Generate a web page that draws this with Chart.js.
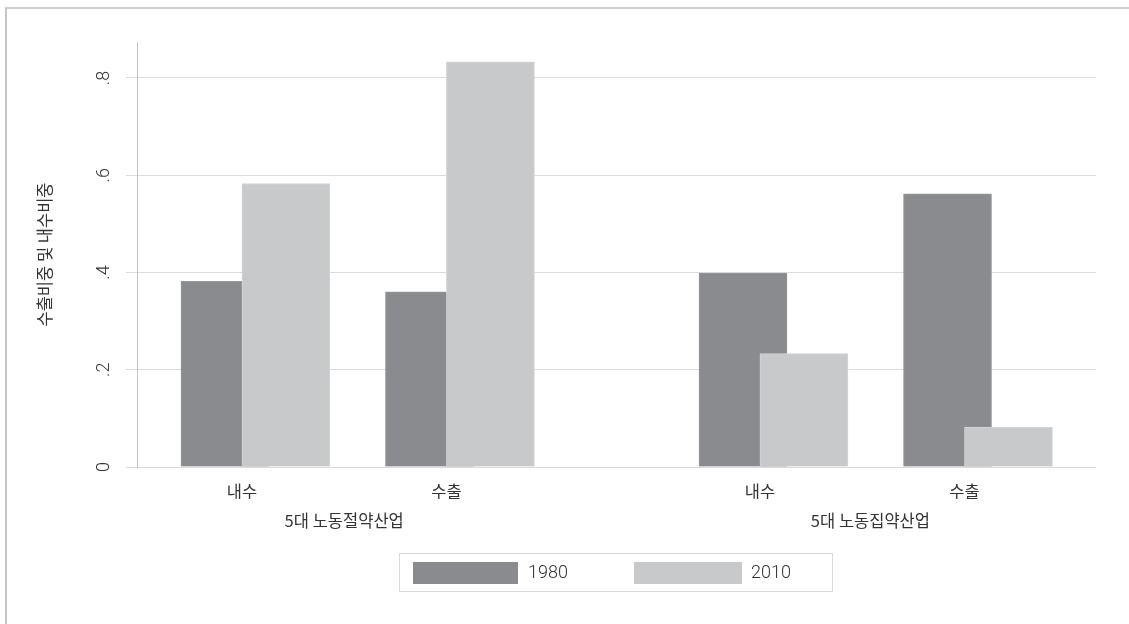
<!DOCTYPE html>
<html lang="ko">
<head>
<meta charset="UTF-8">
<title>수출비중 및 내수비중</title>
<script src="https://cdn.jsdelivr.net/npm/chart.js"></script>
<style>
  html, body { margin: 0; padding: 0; background: #fff; }
  #wrap { position: relative; width: 1129px; height: 624px; overflow: hidden; }
  #frame { position: absolute; left: 5px; top: 7px; width: 1140px; height: 640px;
           border-top: 2px solid #d0d0d0; border-left: 2px solid #c4c4c4; }
  #chart { position: absolute; left: 0; top: 0; }
  #legend { position: absolute; left: 399px; top: 553px; width: 432px; height: 37px;
            border: 1px solid #d9d9d9; font-family: Roboto, "Noto Sans CJK KR", sans-serif;
            font-size: 18px; font-weight: 300; color: #333; }
  #legend .sw { position: absolute; top: 8px; height: 22px; }
  #legend .lb { position: absolute; top: 6px; line-height: 24px; }
</style>
</head>
<body>
<div id="wrap">
  <div id="frame"></div>
  <canvas id="chart" width="1129" height="624"></canvas>
  <div id="legend"></div>
</div>

<script>
  // data
  const GROUPS = ['5대 노동절약산업', '5대 노동집약산업'];
  const SUBS = ['내수', '수출'];
  const SERIES = ['1980', '2010'];
  const V1980 = [0.382, 0.360, 0.399, 0.562];
  const V2010 = [0.583, 0.833, 0.233, 0.082];
  const Y_TICKS = [0, 0.2, 0.4, 0.6, 0.8];
  const Y_TICK_LABELS = ['0', '.2', '.4', '.6', '.8'];

  const COLORS = ['#8a8b8f', '#c8c9cb'];
  const FONT = '"Noto Sans CJK KR", "Noto Sans", sans-serif';
  const NUM_FONT = 'Roboto, "Noto Sans", sans-serif';
  const TEXT = '#333333';

  // layout of the categories along x (1 unit = distance 내수 -> 수출)
  const GROUP_STEP = 2.533;
  const BAR_SHIFT = [-0.083, 0.215];
  const X_MIN = -0.513, X_MAX = 4.176;
  const Y_MAX = 0.874;

  const catPos = [];
  GROUPS.forEach((g, gi) => SUBS.forEach((s, si) => catPos.push(gi * GROUP_STEP + si)));
  const groupPos = GROUPS.map((g, gi) => gi * GROUP_STEP + 0.5 + gi * 0.04);

  const values = [V1980, V2010];
  const datasets = SERIES.map((name, k) => ({
    label: name,
    data: values[k].map((v, i) => ({ x: catPos[i] + BAR_SHIFT[k], y: v })),
    backgroundColor: COLORS[k],
    borderColor: k === 0 ? '#96979b' : '#d3d4d6',
    borderWidth: 1,
    barThickness: 88,
    grouped: false,
    order: 2 - k   // 2010 drawn over 1980
  }));

  new Chart(document.getElementById('chart').getContext('2d'), {
    type: 'bar',
    data: { datasets: datasets },
    options: {
      responsive: false,
      animation: false,
      layout: { padding: { left: 0, top: 42, right: 33, bottom: 95 } },
      plugins: { legend: { display: false }, tooltip: { enabled: false } },
      scales: {
        x: {
          type: 'linear', min: X_MIN, max: X_MAX, offset: false, weight: 0,
          grid: { display: false, drawTicks: false },
          border: { display: false },
          afterBuildTicks: s => { s.ticks = catPos.map(v => ({ value: v })); },
          ticks: {
            callback: (v, i) => SUBS[i % SUBS.length],
            autoSkip: false, maxRotation: 0, padding: 15,
            color: TEXT, font: { family: FONT, size: 16.5 }
          },
          afterFit: s => { s.height = 32; }
        },
        x2: {
          type: 'linear', position: 'bottom', min: X_MIN, max: X_MAX, offset: false, weight: 1,
          grid: { display: false, drawTicks: false },
          border: { display: false },
          afterBuildTicks: s => { s.ticks = groupPos.map(v => ({ value: v })); },
          ticks: {
            callback: (v, i) => GROUPS[i],
            autoSkip: false, maxRotation: 0, padding: 12,
            color: TEXT, font: { family: FONT, size: 16.5 }
          },
          afterFit: s => { s.height = 30; }
        },
        y: {
          min: 0, max: Y_MAX,
          afterBuildTicks: s => { s.ticks = Y_TICKS.map(v => ({ value: v })); },
          ticks: {
            callback: (v, i) => Y_TICK_LABELS[i],
            minRotation: 90, maxRotation: 90, crossAlign: 'center', padding: 14,
            color: TEXT, font: { family: NUM_FONT, size: 18, weight: 300 }
          },
          grid: { color: '#dcdcdc', tickLength: 11, lineWidth: 1 },
          border: { color: '#c2c2c2' },
          title: {
            display: true, text: '수출비중 및 내수비중',
            padding: { top: 35 },
            color: TEXT, font: { family: FONT, size: 16.5 }
          },
          afterFit: s => { s.width = 137; }
        }
      }
    }
  });

  // legend box under the plot
  const legend = document.getElementById('legend');
  const swX = [13, 234], swW = [105, 108], lbX = [128, 351];
  SERIES.forEach((name, k) => {
    const sw = document.createElement('div');
    sw.className = 'sw';
    sw.style.left = swX[k] + 'px';
    sw.style.width = swW[k] + 'px';
    sw.style.background = COLORS[k];
    legend.appendChild(sw);
    const lb = document.createElement('div');
    lb.className = 'lb';
    lb.style.left = lbX[k] + 'px';
    lb.textContent = name;
    legend.appendChild(lb);
  });
</script>
</body>
</html>
